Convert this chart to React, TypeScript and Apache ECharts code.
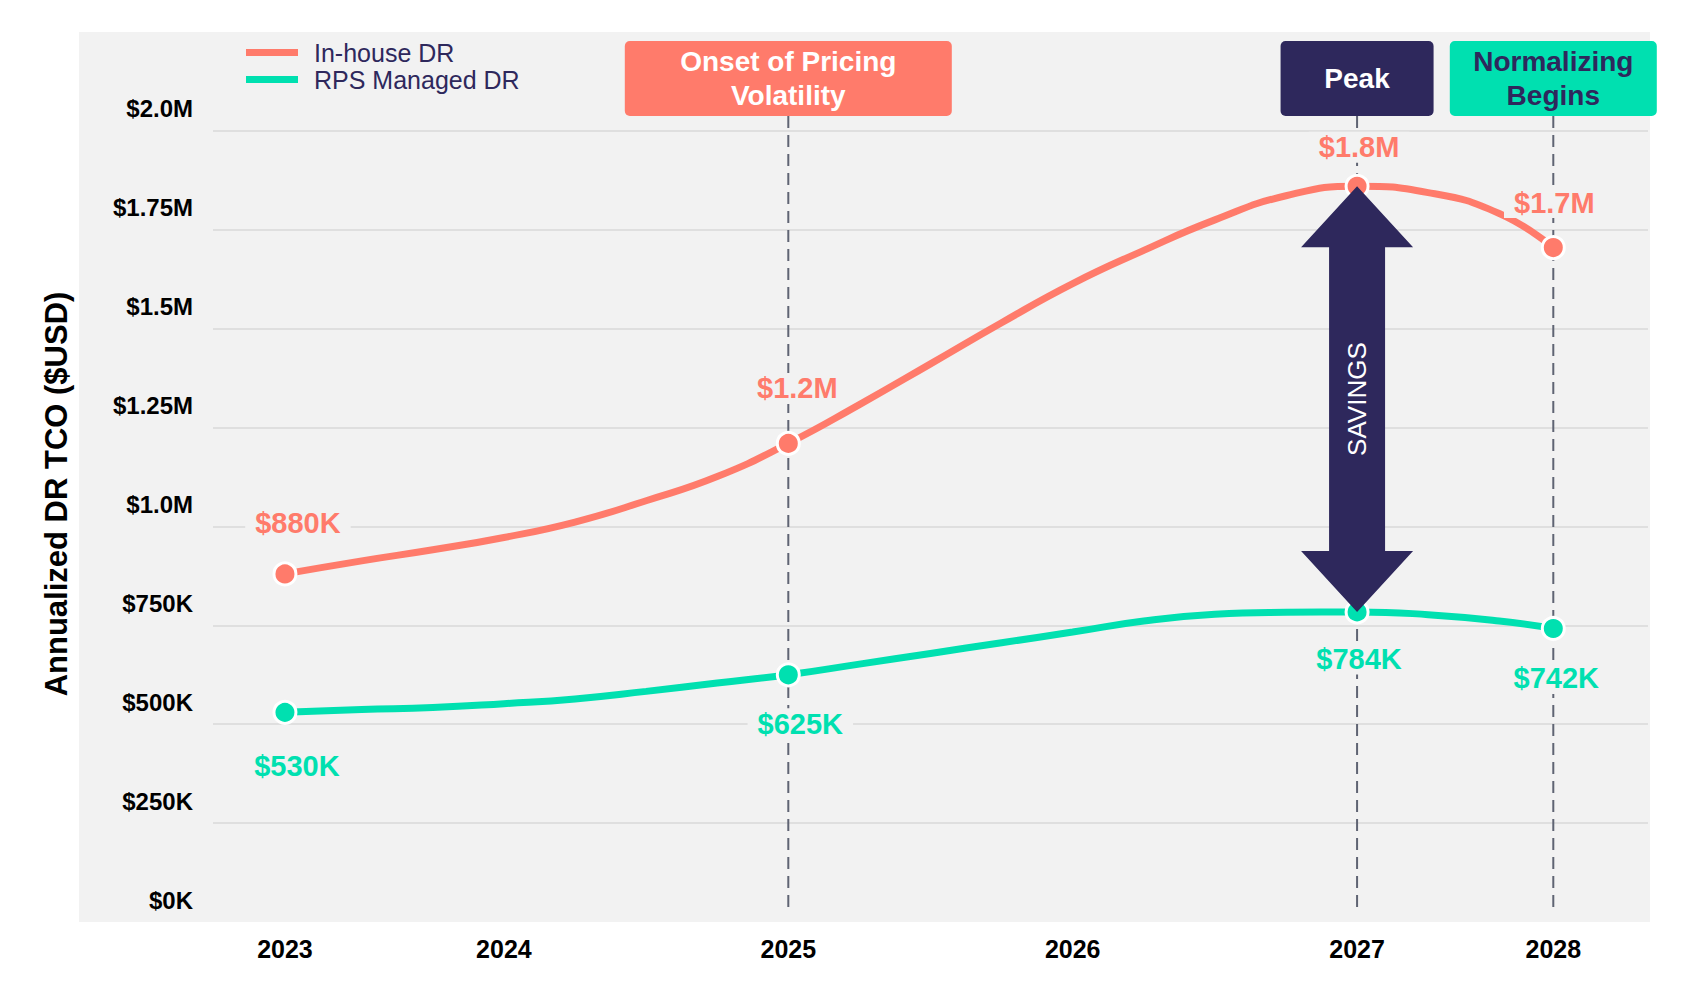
import { useEffect, useRef } from "react";
import * as echarts from "echarts";

// x positions are fractional years on a linear axis
const years = ["2023", "2024", "2025", "2026", "2027", "2028"];
const yearPos = [2023.23, 2024, 2025, 2026, 2027, 2027.69];

// quarterly samples
const samplePos = [
  2023.23, 2023.5, 2023.75, 2024, 2024.25, 2024.5, 2024.75, 2025, 2025.25, 2025.5,
  2025.75, 2026, 2026.25, 2026.5, 2026.75, 2027, 2027.25, 2027.5, 2027.69,
];
const inHouse = [
  880000, 913000, 941000, 972000, 1011000, 1065000, 1126000, 1210000, 1308000, 1411000,
  1515000, 1614000, 1698000, 1775000, 1836000, 1860000, 1844000, 1791000, 1705000,
];
const rpsManaged = [
  530000, 537000, 542000, 552000, 564000, 583000, 604000, 625000, 652000, 679000,
  706000, 733000, 761000, 778000, 783000, 784000, 777000, 761000, 742000,
];
// samples that get a marker + value label
const milestoneIdx = [0, 7, 15, 18];
const savingsIdx = 15;

const calloutText = ["Onset of Pricing\nVolatility", "Peak", "Normalizing\nBegins"];
const calloutPos = [2025, 2027, 2027.69];

const SALMON = "#ff7b6b";
const TEAL = "#00e0b0";
const NAVY = "#2e285c";
const BG = "#f2f2f2";
const FONT = '"Liberation Sans", Arial, Helvetica, sans-serif';

const GRID = { left: 213, right: 54, top: 32, bottom: 80 };

const calloutStyle = [
  { width: 327, fill: SALMON, color: "#ffffff" },
  { width: 153, fill: NAVY, color: "#ffffff" },
  { width: 207, fill: TEAL, color: NAVY },
];

const inHouseLabelOffset = [[13, -51], [9, -55], [2, -39], [1, -45]];
const rpsLabelOffset = [[12, 54], [12, 49], [2, 47], [3, 50]];

const money = (v: number) =>
  v >= 1e6 ? "$" + (Math.floor(v / 1e5 + 1e-6) / 10).toFixed(1) + "M" : "$" + Math.round(v / 1000) + "K";

const axisMoney = (v: number) => {
  if (v > 2e6) return "";
  if (v >= 1e6) return "$" + (v % 1e5 === 0 ? (v / 1e6).toFixed(1) : (v / 1e6).toFixed(2)) + "M";
  return "$" + v / 1000 + "K";
};

function buildData(values: number[], offsets: number[][]) {
  return samplePos.map((x, i) => {
    const k = milestoneIdx.indexOf(i);
    if (k < 0) return { value: [x, values[i]], symbol: "none" };
    return { value: [x, values[i]], label: { show: true, offset: offsets[k] } };
  });
}

function lineSeries(name: string, color: string, values: number[], offsets: number[][]) {
  return {
    name,
    type: "line",
    smooth: 0.5,
    z: 2,
    data: buildData(values, offsets),
    symbol: "circle",
    symbolSize: 22,
    showAllSymbol: true,
    lineStyle: { width: 7, color },
    itemStyle: { color, borderColor: "#ffffff", borderWidth: 3 },
    emphasis: { disabled: true },
    label: {
      show: false,
      position: "inside",
      color,
      fontFamily: FONT,
      fontSize: 29,
      fontWeight: "bold",
      backgroundColor: BG,
      padding: [1, 10],
      formatter: (p: any) => money(p.value[1]),
    },
  };
}

export default function App() {
  const chartRef = useRef<HTMLDivElement>(null);

  useEffect(() => {
    document.body.style.margin = "0";
    if (!chartRef.current) return;
    const chart = echarts.init(chartRef.current, null, { renderer: "svg" });

    const plotBottom = 1002 - GRID.bottom;

    const option: any = {
      animation: false,
      textStyle: { fontFamily: FONT },
      grid: GRID,
      legend: {
        orient: "vertical",
        left: 246,
        top: 39,
        padding: 0,
        itemGap: 0,
        itemWidth: 52,
        itemHeight: 7,
        icon: "rect",
        data: ["In-house DR", "RPS Managed DR"],
        itemStyle: { borderWidth: 0 },
        textStyle: { fontSize: 25, color: NAVY, lineHeight: 27, padding: [0, 0, 0, 11], fontFamily: FONT },
      },
      xAxis: {
        type: "value",
        min: 2022.977,
        max: 2028.023,
        splitLine: { show: false },
        axisLine: { show: false },
        axisTick: { show: false },
        axisLabel: {
          customValues: yearPos,
          formatter: (v: number) => {
            const i = yearPos.findIndex((p) => Math.abs(p - v) < 1e-6);
            return i < 0 ? "" : years[i];
          },
          margin: 14,
          fontSize: 25,
          fontWeight: "bold",
          color: "#000000",
          fontFamily: FONT,
        },
      },
      yAxis: {
        type: "value",
        min: 0,
        max: 2250000,
        interval: 250000,
        axisLine: { show: false },
        axisTick: { show: false },
        splitLine: { show: true, showMinLine: false, showMaxLine: false, lineStyle: { color: "#d8d8d8", width: 1.5 } },
        axisLabel: {
          margin: 20,
          fontSize: 24,
          fontWeight: "bold",
          color: "#000000",
          fontFamily: FONT,
          verticalAlign: "bottom",
          lineHeight: 44,
          formatter: axisMoney,
        },
      },
      graphic: [
        {
          type: "rect",
          z: -10,
          silent: true,
          shape: { x: 79, y: GRID.top, width: 1571, height: plotBottom - GRID.top },
          style: { fill: BG },
        },
        {
          type: "text",
          x: 56,
          y: 494,
          rotation: Math.PI / 2,
          silent: true,
          style: {
            text: "Annualized DR TCO ($USD)",
            font: `bold 31px ${FONT}`,
            fill: "#000000",
            align: "center",
            verticalAlign: "middle",
            textAlign: "center",
            textVerticalAlign: "middle",
          },
        },
      ],
      series: [
        {
          type: "custom",
          z: 1,
          silent: true,
          clip: false,
          encode: { x: 0, y: 1 },
          data: calloutPos.map((x, i) => [x, i]),
          renderItem: (_params: any, api: any) => {
            const i = api.value(1);
            const cx = api.coord([api.value(0), 0])[0];
            const s = calloutStyle[i];
            const boxTop = GRID.top + 9;
            const boxH = 75;
            return {
              type: "group",
              children: [
                {
                  type: "line",
                  shape: { x1: cx, y1: boxTop + boxH, x2: cx, y2: plotBottom - 12 },
                  style: { stroke: "#5f6473", lineWidth: 2, lineDash: [12, 7] },
                },
                {
                  type: "rect",
                  shape: { x: cx - s.width / 2, y: boxTop, width: s.width, height: boxH, r: 5 },
                  style: { fill: s.fill },
                },
                {
                  type: "text",
                  style: {
                    text: calloutText[i],
                    x: cx,
                    y: boxTop + boxH / 2,
                    fill: s.color,
                    font: `bold 28px ${FONT}`,
                    lineHeight: 34,
                    align: "center",
                    verticalAlign: "middle",
                    textAlign: "center",
                    textVerticalAlign: "middle",
                  },
                },
              ],
            };
          },
        },
        lineSeries("In-house DR", SALMON, inHouse, inHouseLabelOffset),
        lineSeries("RPS Managed DR", TEAL, rpsManaged, rpsLabelOffset),
        {
          type: "custom",
          z: 5,
          silent: true,
          clip: false,
          encode: { x: 0, y: [1, 2] },
          data: [[samplePos[savingsIdx], inHouse[savingsIdx], rpsManaged[savingsIdx]]],
          renderItem: (_params: any, api: any) => {
            const [cx, yTop] = api.coord([api.value(0), api.value(1)]);
            const yBot = api.coord([api.value(0), api.value(2)])[1];
            const head = 56;
            const shaft = 28;
            const len = 61;
            const points = [
              [cx, yTop],
              [cx + head, yTop + len],
              [cx + shaft, yTop + len],
              [cx + shaft, yBot - len],
              [cx + head, yBot - len],
              [cx, yBot],
              [cx - head, yBot - len],
              [cx - shaft, yBot - len],
              [cx - shaft, yTop + len],
              [cx - head, yTop + len],
            ];
            return {
              type: "group",
              children: [
                { type: "polygon", shape: { points }, style: { fill: NAVY } },
                {
                  type: "text",
                  x: cx,
                  y: (yTop + yBot) / 2,
                  rotation: Math.PI / 2,
                  style: {
                    text: "SAVINGS",
                    fill: "#ffffff",
                    font: `26px ${FONT}`,
                    align: "center",
                    verticalAlign: "middle",
                    textAlign: "center",
                    textVerticalAlign: "middle",
                  },
                },
              ],
            };
          },
        },
      ],
    };

    chart.setOption(option);
    return () => {
      chart.dispose();
    };
  }, []);

  return <div ref={chartRef} style={{ width: 1702, height: 1002 }} />;
}
